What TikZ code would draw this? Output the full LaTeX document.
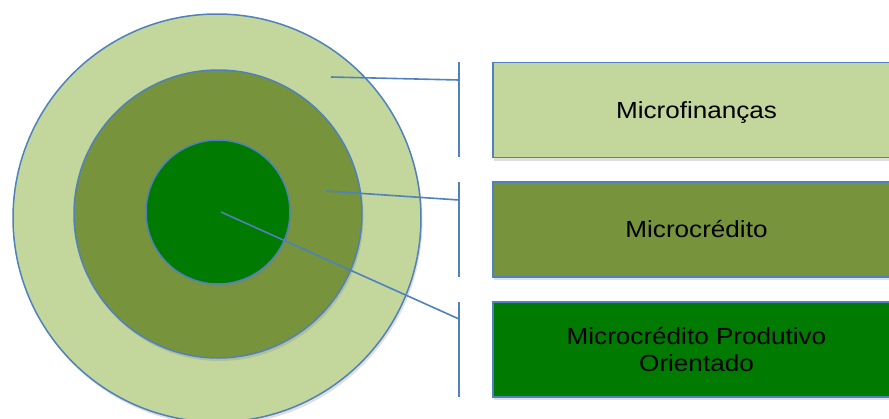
\documentclass[tikz,border=0pt]{standalone}
\usepackage{fontspec}
\setmainfont{Liberation Sans}
\newfontfamily\boxfont[FakeStretch=1.12]{Liberation Sans}
\usetikzlibrary{shadows}
\definecolor{edgeblue}{HTML}{4F81BD}
\definecolor{lightgreen}{HTML}{C3D69B}
\definecolor{olivegreen}{HTML}{77933C}
\definecolor{deepgreen}{HTML}{007A00}
\tikzset{
  ring/.style={circle, draw=edgeblue, line width=1.5pt, inner sep=0pt,
    drop shadow={opacity=0.25, shadow xshift=1.5pt, shadow yshift=-3pt}},
  labelbox/.style={rectangle, draw=edgeblue, line width=1.5pt, minimum width=407pt,
    minimum height=95pt, inner sep=0pt, align=center,
    font=\boxfont\fontsize{23.3}{27.7}\selectfont,
    drop shadow={opacity=0.25, shadow xshift=1pt, shadow yshift=-3pt}},
  leader/.style={draw=edgeblue, line width=1.6pt},
  bracket/.style={draw=edgeblue, line width=1.7pt}
}
\begin{document}
\begin{tikzpicture}[x=1pt, y=-1pt]
\useasboundingbox (0,0) rectangle (889,418);
\clip (0,0) rectangle (889,418);
\node[ring, fill=lightgreen, minimum size=408pt] (outer) at (217,218) {};
\node[ring, fill=olivegreen, minimum size=288pt] (middle) at (218,214) {};
\node[ring, fill=deepgreen, minimum size=144pt] (inner) at (218,212) {};
% leader line ends
\coordinate (p1) at (331,77);
\coordinate (p2) at (326,191);
\coordinate (p3) at (221,212);
\coordinate (b1) at (459,80);
\coordinate (b2) at (459,200);
\coordinate (b3) at (459,319);
\coordinate (t1) at (459,62);  \coordinate (u1) at (459,157);
\coordinate (t2) at (459,182); \coordinate (u2) at (459,277);
\coordinate (t3) at (459,302); \coordinate (u3) at (459,397);
\draw[leader] (p1) -- (b1);
\draw[leader] (p2) -- (b2);
\draw[leader] (p3) -- (b3);
\draw[bracket] (t1) -- (u1);
\draw[bracket] (t2) -- (u2);
\draw[bracket] (t3) -- (u3);
\node[labelbox, fill=lightgreen] (box1) at (696.5,110) {Microfinan\smash{ç}as};
\node[labelbox, fill=olivegreen] (box2) at (696.5,229.5) {Microcrédito};
\node[labelbox, fill=deepgreen] (box3) at (696.5,349.5) {Microcrédito Produtivo\\Orientado};
\end{tikzpicture}
\end{document}
